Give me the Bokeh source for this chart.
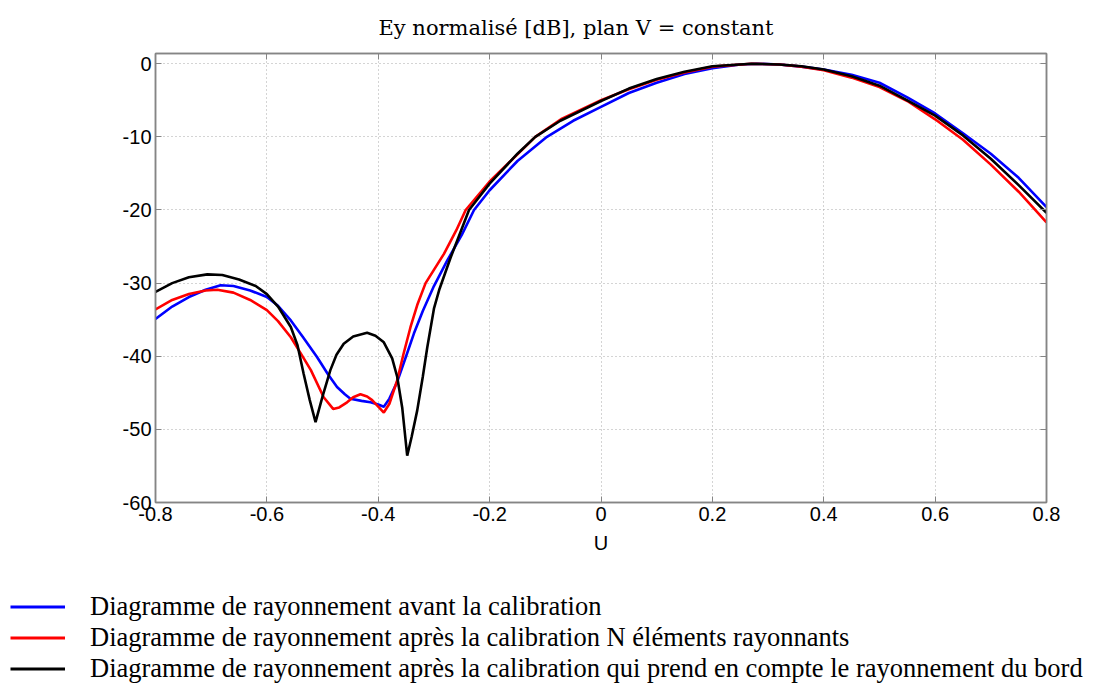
from bokeh.plotting import figure
from bokeh.models import LinearAxis, Legend, LegendItem, FixedTicker, CustomJSTickFormatter, Range1d
from bokeh.embed import file_html
from bokeh.resources import INLINE

# ---- data ----
x_ticks = [-0.8, -0.6, -0.4, -0.2, 0.0, 0.2, 0.4, 0.6, 0.8]
y_ticks = [-60, -50, -40, -30, -20, -10, 0]

labels = [
    "Diagramme de rayonnement avant la calibration",
    "Diagramme de rayonnement après la calibration N éléments rayonnants",
    "Diagramme de rayonnement après la calibration qui prend en compte le rayonnement du bord",
]
colors = ["#0000ff", "#ff0000", "#000000"]

u_avant = [-0.80, -0.77, -0.74, -0.71, -0.683, -0.66, -0.63, -0.60, -0.58, -0.557,
           -0.535, -0.51, -0.49, -0.474, -0.46, -0.45, -0.43, -0.414, -0.40, -0.39,
           -0.38, -0.366, -0.35, -0.336, -0.32, -0.30, -0.276, -0.25, -0.228, -0.20,
           -0.15, -0.097, -0.05, 0.0, 0.05, 0.10, 0.15, 0.20, 0.25, 0.28,
           0.32, 0.36, 0.40, 0.45, 0.50, 0.55, 0.60, 0.65, 0.70, 0.75, 0.80]
db_avant = [-34.9, -33.2, -31.9, -30.9, -30.3, -30.4, -31.0, -31.9, -33.1, -35.1,
            -37.4, -40.1, -42.5, -44.2, -45.2, -45.8, -46.1, -46.3, -46.6, -46.9,
            -45.8, -43.5, -40.0, -36.9, -33.8, -30.4, -26.9, -23.4, -20.0, -17.3,
            -13.3, -10.0, -7.8, -5.9, -4.0, -2.6, -1.4, -0.6, -0.1, 0.0,
            -0.1, -0.4, -0.8, -1.5, -2.6, -4.6, -6.8, -9.5, -12.3, -15.6, -19.6]

u_apres_n = [-0.80, -0.77, -0.74, -0.71, -0.689, -0.66, -0.63, -0.60, -0.58, -0.557,
             -0.54, -0.521, -0.498, -0.481, -0.47, -0.456, -0.445, -0.432, -0.42, -0.411,
             -0.40, -0.39, -0.38, -0.366, -0.355, -0.342, -0.33, -0.315, -0.282, -0.26,
             -0.243, -0.20, -0.15, -0.118, -0.07, 0.0, 0.05, 0.10, 0.15, 0.20,
             0.27, 0.32, 0.36, 0.40, 0.45, 0.50, 0.55, 0.60, 0.65, 0.70, 0.75, 0.80]
db_apres_n = [-33.6, -32.3, -31.5, -31.0, -30.9, -31.3, -32.3, -33.7, -35.2, -37.4,
              -39.5, -41.9, -45.6, -47.2, -47.0, -46.3, -45.6, -45.2, -45.5, -46.0,
              -46.9, -47.7, -46.5, -43.3, -39.8, -36.0, -33.0, -30.0, -26.0, -22.8,
              -20.0, -16.1, -12.4, -10.0, -7.5, -5.0, -3.5, -2.2, -1.2, -0.4,
              0.0, -0.1, -0.4, -0.9, -1.9, -3.2, -5.1, -7.6, -10.4, -13.8, -17.5, -21.7]

u_apres_bord = [-0.80, -0.77, -0.74, -0.707, -0.68, -0.65, -0.62, -0.60, -0.58, -0.557,
                -0.545, -0.534, -0.523, -0.5126, -0.50, -0.486, -0.475, -0.462, -0.445, -0.42,
                -0.405, -0.39, -0.375, -0.366, -0.357, -0.348, -0.34, -0.33, -0.32, -0.312,
                -0.30, -0.29, -0.27, -0.237, -0.20, -0.15, -0.118, -0.073, 0.0, 0.05,
                0.10, 0.15, 0.20, 0.27, 0.32, 0.36, 0.40, 0.45, 0.50, 0.55,
                0.60, 0.65, 0.70, 0.75, 0.80]
db_apres_bord = [-31.2, -30.0, -29.2, -28.8, -28.9, -29.5, -30.4, -31.5, -33.2, -36.0,
                 -38.5, -42.4, -46.0, -49.0, -45.5, -41.9, -39.8, -38.3, -37.3, -36.8,
                 -37.2, -38.1, -40.3, -42.8, -47.0, -53.6, -51.0, -47.4, -42.8, -38.8,
                 -33.5, -30.8, -26.5, -20.0, -16.4, -12.3, -10.0, -7.8, -5.1, -3.4,
                 -2.1, -1.1, -0.35, 0.0, -0.1, -0.35, -0.8, -1.7, -3.0, -5.0,
                 -7.1, -9.8, -13.0, -16.6, -20.4]

series_u = [u_avant, u_apres_n, u_apres_bord]
series_db = [db_avant, db_apres_n, db_apres_bord]

# ---- main figure ----
p = figure(width=1080, height=560, x_range=(-0.8, 0.8), y_range=(-60, 1.4),
           output_backend="svg", toolbar_location=None,
           min_border_left=155, min_border_right=34, min_border_top=53,
           min_border_bottom=58)

p.title.text = "Ey normalisé [dB], plan V = constant"
p.title.align = "left"
p.title.offset = 223
p.title.standoff = 23
p.title.vertical_align = "top"
p.title.text_font = "DejaVu Serif"
p.title.text_font_size = "21px"
p.title.text_font_style = "normal"
p.title.text_color = "black"

axis_grey = "#858585"
p.outline_line_color = axis_grey
p.outline_line_width = 1.5

xfmt = CustomJSTickFormatter(code="""
const s = tick.toFixed(1);
return (s === "0.0" || s === "-0.0") ? "0" : s;
""")
yfmt = CustomJSTickFormatter(code="return tick.toFixed(0);")

for ax in p.xaxis:
    ax.ticker = FixedTicker(ticks=x_ticks)
    ax.formatter = xfmt
for ax in p.yaxis:
    ax.ticker = FixedTicker(ticks=y_ticks)
    ax.formatter = yfmt

for ax in list(p.xaxis) + list(p.yaxis):
    ax.axis_line_color = axis_grey
    ax.axis_line_width = 1.5
    ax.major_tick_line_color = axis_grey
    ax.major_tick_in = 6
    ax.major_tick_out = 0
    ax.minor_tick_line_color = None
    ax.major_label_text_font = "Liberation Sans"
    ax.major_label_text_font_size = "20px"
    ax.major_label_text_color = "black"
    ax.major_label_standoff = 4

p.xaxis.axis_label = "U"
p.xaxis.axis_label_text_font = "Liberation Sans"
p.xaxis.axis_label_text_font_size = "20px"
p.xaxis.axis_label_text_font_style = "normal"
p.xaxis.axis_label_text_color = "black"
p.xaxis.axis_label_standoff = 8

top = LinearAxis(ticker=FixedTicker(ticks=x_ticks), major_label_text_font_size="0px")
right = LinearAxis(ticker=FixedTicker(ticks=y_ticks), major_label_text_font_size="0px")
for ax in (top, right):
    ax.axis_line_color = axis_grey
    ax.axis_line_width = 1.5
    ax.major_tick_line_color = axis_grey
    ax.major_tick_in = 6
    ax.major_tick_out = 0
    ax.minor_tick_line_color = None
    ax.major_label_standoff = 0
p.add_layout(top, "above")
p.add_layout(right, "right")

for g in (p.xgrid[0], p.ygrid[0]):
    g.grid_line_color = "#a8a8a8"
    g.grid_line_dash = "1 3"
    g.grid_line_width = 1
p.xgrid.ticker = FixedTicker(ticks=x_ticks)
p.ygrid.ticker = FixedTicker(ticks=y_ticks)

for u, db, c in zip(series_u, series_db, colors):
    p.line(u, db, line_color=c, line_width=2.6)

# ---- legend panel (separate figure under the plot) ----
lg = figure(width=1096, height=124, x_range=Range1d(10, 11), y_range=Range1d(10, 11),
            output_backend="svg", toolbar_location=None,
            x_axis_type=None, y_axis_type=None,
            min_border_left=0, min_border_right=0, min_border_top=0, min_border_bottom=0)
lg.outline_line_color = None
lg.grid.visible = False
items = []
for u, db, c, lab in zip(series_u, series_db, colors, labels):
    r = lg.line(u, db, line_color=c, line_width=3)
    items.append(LegendItem(label=lab, renderers=[r]))

legend = Legend(items=items, location=(10, 0), glyph_width=55, glyph_height=31,
                label_height=31, label_standoff=25, spacing=0, padding=0, margin=0,
                border_line_color=None, background_fill_alpha=0,
                label_text_font="Liberation Serif", label_text_font_size="26.5px",
                label_text_color="black")
lg.add_layout(legend)

open("out.html", "w").write(file_html([p, lg], INLINE))
